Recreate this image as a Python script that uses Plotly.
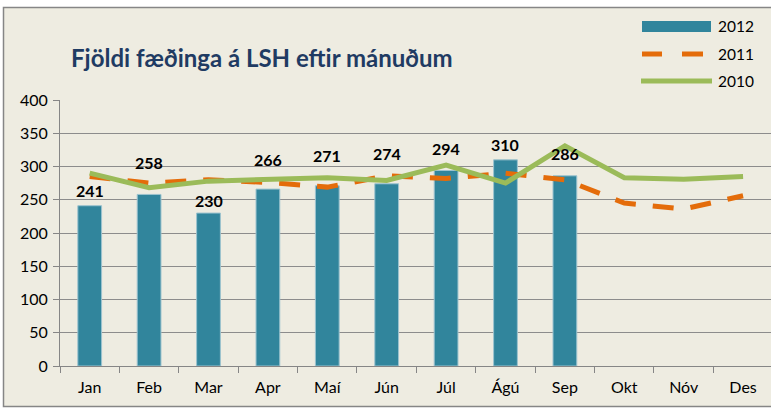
import plotly.graph_objects as go

months = ["Jan", "Feb", "Mar", "Apr", "Maí", "Jún", "Júl", "Ágú", "Sep", "Okt", "Nóv", "Des"]
births_2012 = [241, 258, 230, 266, 271, 274, 294, 310, 286, None, None, None]
births_2011 = [285, 275, 280, 276, 269, 286, 282, 290, 280, 245, 236, 256]
births_2010 = [290, 268, 278, 280, 283, 279, 302, 275, 331, 283, 281, 285]
series_names = ["2012", "2011", "2010"]
y_ticks = [0, 50, 100, 150, 200, 250, 300, 350, 400]
title_text = "Fjöldi fæðinga á LSH eftir mánuðum"

# styling
label_shift = [15, 32, 13, 30, 30, 30, 22, 15, 22]
BAR = "#31859C"
ORANGE = "#E46C0A"
GREEN = "#9BBB59"
FONT = "Lato"

W, H = 771, 408
ML, MR, MT, MB = 60, 0, 100, 42
PW = W - ML - MR
PH = H - MT - MB


def px_x(px):
    return (px - ML) / PW


def px_y(py):
    return (H - MB - py) / PH


fig = go.Figure()
fig.add_trace(go.Bar(x=months, y=births_2012, name=series_names[0], width=0.4,
                     marker=dict(color=BAR, line=dict(color="#9CC3CF", width=1))))
fig.add_trace(go.Scatter(x=months, y=births_2011, name=series_names[1], mode="lines",
                         line=dict(color=ORANGE, width=5, dash="21px,17px")))
fig.add_trace(go.Scatter(x=months, y=births_2010, name=series_names[2], mode="lines",
                         line=dict(color=GREEN, width=5)))

annotations = []
for m, v, s in zip(months, births_2012, label_shift):
    if v is None:
        continue
    annotations.append(dict(x=m, y=v, xref="x", yref="y", text=f"<b>{v}</b>", showarrow=False,
                            yanchor="middle", yshift=s,
                            font=dict(family=FONT, size=16, color="#000000")))

# title
annotations.append(dict(x=px_x(69), y=px_y(58), xref="paper", yref="paper", text=f"<b>{title_text}</b>",
                        showarrow=False, xanchor="left", yanchor="middle",
                        font=dict(family=FONT, size=24, color="#1F3B63")))

shapes = [
    # chart background and border
    dict(type="rect", xref="paper", yref="paper", x0=px_x(3.5), x1=px_x(790), y0=px_y(406.5), y1=px_y(7.5),
         fillcolor="#EEECE1", line=dict(color="#868686", width=1.5), layer="below"),
]

# custom legend
leg_y = [26, 54, 81]
sx0, sx1 = 642, 711
shapes.append(dict(type="rect", xref="paper", yref="paper", x0=px_x(sx0), x1=px_x(sx1),
                   y0=px_y(32), y1=px_y(21), fillcolor=BAR, line=dict(width=0)))
shapes.append(dict(type="line", xref="paper", yref="paper", x0=px_x(sx0), x1=px_x(sx0 + 20),
                   y0=px_y(leg_y[1]), y1=px_y(leg_y[1]), line=dict(color=ORANGE, width=5)))
shapes.append(dict(type="line", xref="paper", yref="paper", x0=px_x(sx0 + 40), x1=px_x(sx0 + 61),
                   y0=px_y(leg_y[1]), y1=px_y(leg_y[1]), line=dict(color=ORANGE, width=5)))
shapes.append(dict(type="line", xref="paper", yref="paper", x0=px_x(sx0 - 1), x1=px_x(sx1 + 1),
                   y0=px_y(leg_y[2]), y1=px_y(leg_y[2]), line=dict(color=GREEN, width=5)))
for name, ly in zip(series_names, leg_y):
    annotations.append(dict(x=px_x(716), y=px_y(ly), xref="paper", yref="paper", text=name,
                            showarrow=False, xanchor="left", yanchor="middle",
                            font=dict(family=FONT, size=15.5, color="#000000")))

fig.update_layout(
    width=W, height=H,
    margin=dict(l=ML, r=MR, t=MT, b=MB, pad=0),
    paper_bgcolor="#FFFFFF",
    plot_bgcolor="#FFFFFF",
    showlegend=False,
    annotations=annotations,
    shapes=shapes,
    font=dict(family=FONT, size=15, color="#000000"),
)
fig.update_xaxes(range=[-0.5, 11.47], showgrid=False, showline=True, linecolor="#868686", linewidth=1,
                 ticks="outside", tickson="boundaries", ticklen=6, tickcolor="#868686",
                 ticklabelstandoff=7,
                 tickfont=dict(family=FONT, size=16, color="#000000"))
fig.update_yaxes(range=[0, 400], tickvals=y_ticks, showgrid=True, gridcolor="#8C8C8C", gridwidth=1,
                 showline=True, linecolor="#868686", linewidth=1, zeroline=False,
                 ticks="outside", ticklen=6, tickcolor="#868686",
                 ticklabelstandoff=2,
                 tickfont=dict(family=FONT, size=16, color="#000000"))

fig.write_html("out.html", config={"displayModeBar": False},
               post_script="document.body.style.margin='0';document.body.style.overflow='hidden';")
